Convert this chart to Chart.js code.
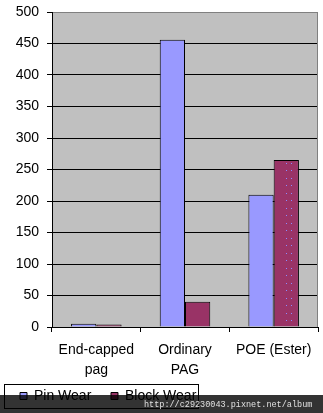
<!DOCTYPE html>
<html>
<head>
<meta charset="utf-8">
<script src="https://cdn.jsdelivr.net/npm/chart.js@4.4.1/dist/chart.umd.min.js"></script>
<style>
  html, body { margin: 0; padding: 0; background: #fff; }
  #wrap { width: 323px; height: 413px; }
</style>
</head>
<body>
<div id="wrap"><canvas id="wearChart" width="323" height="413"></canvas></div>
<script>
// wear values per lubricant
const categories = [['End-capped', 'pag'], ['Ordinary', 'PAG'], 'POE (Ester)'];
const pinWear = [5, 456, 210];
const blockWear = [4, 40, 265];
const yMin = 0;
const yMax = 500;
const yStep = 50;

const FONT = "'Liberation Sans', Arial, sans-serif";

window.onload = function() {
    Chart.defaults.color = '#000';
    Chart.defaults.font.family = FONT;
    Chart.defaults.font.size = 14;

    // dotted fill used on the POE block bar
    const tile = document.createElement('canvas');
    tile.width = 25;
    tile.height = 15;
    const tctx = tile.getContext('2d');
    tctx.fillStyle = '#993366';
    tctx.fillRect(0, 0, 25, 15);
    tctx.fillStyle = '#8c8cff';
    [[11, 5], [16, 5], [11, 13], [16, 13]].forEach(p => tctx.fillRect(p[0], p[1], 1, 1));
    const dotted = tctx.createPattern(tile, 'repeat');

    // grey plot area with a grey right edge
    const plotBackground = {
        id: 'plotBackground',
        beforeDraw(chart) {
            const {ctx, chartArea: a} = chart;
            ctx.save();
            ctx.fillStyle = '#fff';
            ctx.fillRect(0, 0, chart.width, chart.height);
            ctx.fillStyle = '#c0c0c0';
            ctx.fillRect(a.left, a.top, a.right - a.left, a.bottom - a.top);
            ctx.restore();
        },
        beforeDatasetsDraw(chart) {
            const {ctx, chartArea: a} = chart;
            ctx.save();
            ctx.strokeStyle = '#808080';
            ctx.lineWidth = 1;
            ctx.beginPath();
            ctx.moveTo(Math.round(a.right) - 0.5, a.top);
            ctx.lineTo(Math.round(a.right) - 0.5, a.bottom);
            ctx.stroke();
            ctx.restore();
        }
    };

    // frame round the legend, then the site banner on top
    const overlay = {
        id: 'overlay',
        afterDraw(chart) {
            const {ctx, legend} = chart;
            const boxes = legend.legendHitBoxes;
            const last = boxes[boxes.length - 1];
            const x0 = 4.5;
            const x1 = Math.round(last.left + last.width + 2) + 0.5;
            const y0 = Math.round(legend.top + 3) + 0.5;
            ctx.save();
            ctx.strokeStyle = '#000';
            ctx.lineWidth = 1;
            ctx.strokeRect(x0, y0, x1 - x0, 24);

            ctx.fillStyle = 'rgba(0, 0, 0, 0.8)';
            ctx.fillRect(0, 395, chart.width, chart.height - 395);
            ctx.fillStyle = '#e0e0e0';
            ctx.font = "8.5px 'Liberation Mono', 'DejaVu Sans Mono', monospace";
            ctx.textBaseline = 'alphabetic';
            ctx.fillText('http://c29230043.pixnet.net/album', 144, 407);
            ctx.restore();
        }
    };

    const ctxBar = document.getElementById('wearChart').getContext('2d');
    const wearChart = new Chart(ctxBar, {
        type: 'bar',
        data: {
            labels: categories,
            datasets: [{
                label: 'Pin Wear',
                data: pinWear,
                backgroundColor: '#9999ff',
                borderColor: '#000',
                borderWidth: 1
            }, {
                label: 'Block Wear',
                data: blockWear,
                backgroundColor: ['#993366', '#993366', dotted],
                borderColor: '#000',
                borderWidth: 1
            }]
        },
        options: {
            responsive: false,
            animation: false,
            categoryPercentage: 0.57,
            barPercentage: 1.0,
            layout: {
                padding: { top: 12, right: 5, bottom: 0, left: 12 }
            },
            scales: {
                x: {
                    grid: {
                        offset: true,
                        drawOnChartArea: false,
                        tickLength: 5,
                        color: '#000'
                    },
                    border: { color: '#000' },
                    ticks: {
                        padding: 8,
                        maxRotation: 0,
                        autoSkip: false,
                        font: { size: 14, lineHeight: 1.43 }
                    },
                    afterFit(scale) { scale.height = 54; }
                },
                y: {
                    min: yMin,
                    max: yMax,
                    grid: {
                        color: c => (c.tick && c.tick.value === yMax ? '#808080' : '#000'),
                        tickColor: '#000',
                        tickLength: 5
                    },
                    border: { color: '#000' },
                    ticks: {
                        stepSize: yStep,
                        padding: 8,
                        font: { size: 14 }
                    },
                    afterFit(scale) {
                        scale.width = 40;
                        scale.paddingTop = 0;
                        scale.paddingBottom = 0;
                    }
                }
            },
            plugins: {
                legend: {
                    position: 'bottom',
                    align: 'start',
                    labels: {
                        boxWidth: 7,
                        boxHeight: 7,
                        padding: 8,
                        font: { size: 14 },
                        generateLabels(chart) {
                            const items = Chart.defaults.plugins.legend.labels.generateLabels(chart);
                            // wider gap after the first entry
                            items[0].text += '   ';
                            return items;
                        }
                    }
                },
                tooltip: { enabled: false }
            }
        },
        plugins: [plotBackground, overlay]
    });
};
</script>
</body>
</html>
